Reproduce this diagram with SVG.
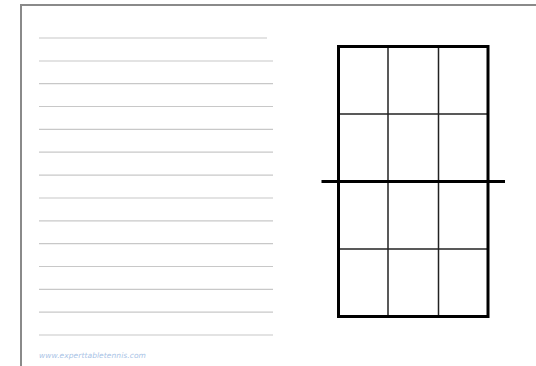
<svg xmlns="http://www.w3.org/2000/svg" width="536" height="366" viewBox="0 0 536 366">
<style>
.page{stroke:#8a8a8a;stroke-width:2;fill:none}
.rule{stroke:#c8c8c8;stroke-width:1.2}
.outer{fill:none;stroke:#000;stroke-width:3}
.inner{stroke:#222;stroke-width:1.5}
.net{stroke:#000;stroke-width:3}
.url{font-family:"DejaVu Sans","Liberation Sans",sans-serif;font-style:italic;font-size:7.5px;letter-spacing:0.1px;fill:#a9c3e6}
</style>
<rect width="536" height="366" fill="#fff"/>
<g id="page">
<path class="page" d="M21,366 V5 H536"/>
</g>
<g id="lines">
<line class="rule" x1="39" y1="38" x2="267" y2="38"/>
<line class="rule" x1="39" y1="61" x2="273" y2="61"/>
<line class="rule" x1="39" y1="83.7" x2="273" y2="83.7"/>
<line class="rule" x1="39" y1="106.5" x2="273" y2="106.5"/>
<line class="rule" x1="39" y1="129.4" x2="273" y2="129.4"/>
<line class="rule" x1="39" y1="152.2" x2="273" y2="152.2"/>
<line class="rule" x1="39" y1="175.1" x2="273" y2="175.1"/>
<line class="rule" x1="39" y1="198" x2="273" y2="198"/>
<line class="rule" x1="39" y1="220.8" x2="273" y2="220.8"/>
<line class="rule" x1="39" y1="243.6" x2="273" y2="243.6"/>
<line class="rule" x1="39" y1="266.5" x2="273" y2="266.5"/>
<line class="rule" x1="39" y1="289.3" x2="273" y2="289.3"/>
<line class="rule" x1="39" y1="312.2" x2="273" y2="312.2"/>
<line class="rule" x1="39" y1="335" x2="273" y2="335"/>
</g>
<g id="table">
<line class="inner" x1="388" y1="46.5" x2="388" y2="316.5"/>
<line class="inner" x1="438.5" y1="46.5" x2="438.5" y2="316.5"/>
<line class="inner" x1="338.5" y1="114" x2="488" y2="114"/>
<line class="inner" x1="338.5" y1="249" x2="488" y2="249"/>
<rect class="outer" x="338.5" y="46.5" width="149.5" height="270"/>
<line class="net" x1="321.5" y1="181.5" x2="505" y2="181.5"/>
</g>
<text class="url" x="39" y="357.5" textLength="107">www.experttabletennis.com</text>
</svg>
